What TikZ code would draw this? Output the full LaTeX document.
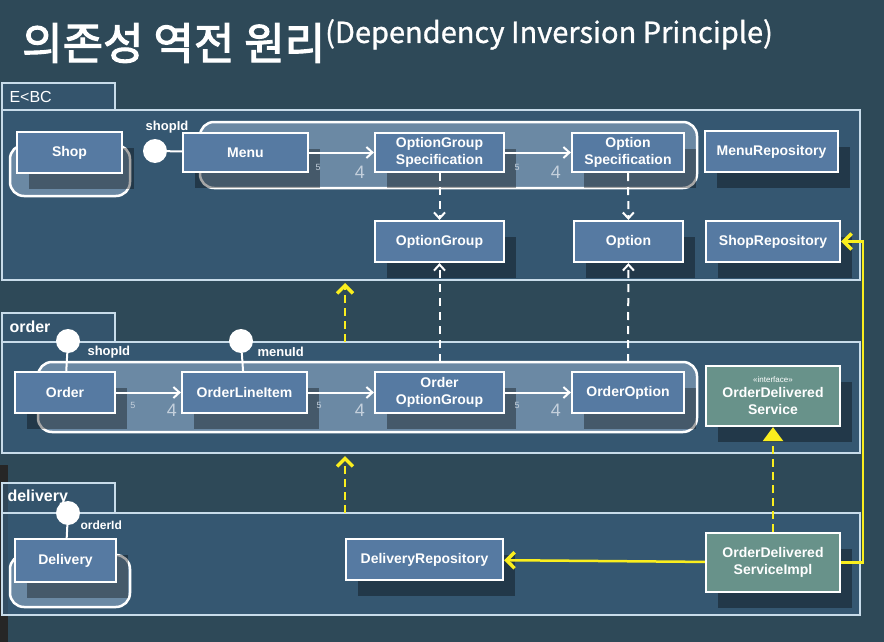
\documentclass[tikz,border=0pt]{standalone}
\usepackage{fontspec}
\setmainfont{Liberation Sans}
\newfontfamily\krfont{Noto Sans CJK KR}[FakeBold=2.5]
\newfontfamily\krsub{Noto Sans CJK KR}[FakeBold=1]
\usepackage{tikz}
\usetikzlibrary{positioning, arrows.meta, shadows}
\definecolor{bgdark}{RGB}{46,73,88}
\definecolor{framefill}{RGB}{56,92,122}
\definecolor{frameline}{RGB}{200,220,234}
\definecolor{boxfill}{RGB}{86,122,162}
\definecolor{aggfill}{RGB}{126,154,182}
\definecolor{svcfill}{RGB}{104,146,138}
\definecolor{hilite}{RGB}{250,238,30}
\definecolor{multgray}{RGB}{196,208,220}

\begin{document}
\begin{tikzpicture}[x=1pt, y=-1pt,
    every node/.style={font=\fontsize{14}{17}\selectfont\bfseries, text=white},
    pkgframe/.style={draw=frameline, line width=1.8pt, fill=framefill, fill opacity=0.75},
    pkgtab/.style={draw=frameline, line width=1.8pt, fill=framefill, fill opacity=0.6},
    agg/.style={draw=white, line width=2.5pt, fill=aggfill, fill opacity=0.75, rounded corners=14pt},
    cls/.style={draw=white, line width=2.2pt, fill=boxfill, align=center, inner sep=2pt,
        drop shadow={shadow xshift=12pt, shadow yshift=-16pt, opacity=0.35, fill=black}},
    svc/.style={cls, fill=svcfill},
    port/.style={circle, fill=white, minimum size=24pt, inner sep=0pt},
    portlbl/.style={font=\fontsize{13}{14}\selectfont\bfseries},
    small/.style={font=\fontsize{9}{10}\selectfont, text=multgray},
    big/.style={font=\fontsize{18}{19}\selectfont, text=multgray},
    assoc/.style={white, line width=2pt, -{Straight Barb[length=6pt, width=11pt]}},
    dep/.style={white, line width=2pt, dashed, dash pattern=on 8pt off 6pt,
        -{Straight Barb[length=6pt, width=11pt]}},
    ydep/.style={hilite, line width=2.5pt, dash pattern=on 8pt off 5pt,
        -{Straight Barb[length=8pt, width=16pt, line width=3.5pt]}},
    ylink/.style={hilite, line width=2.5pt, -{Straight Barb[length=8pt, width=16pt, line width=3.5pt]}}]

  \useasboundingbox (0,0) rectangle (884,642);
  \fill[bgdark] (0,0) rectangle (884,642);
  \fill[black!85] (0,465) rectangle (8,642);

  % title
  \node[anchor=west, inner sep=0pt, font=\krfont\fontsize{44}{46}\selectfont] (title) at (22,43) {의존성 역전 원리};
  \node[anchor=north west, inner sep=0pt, font=\krsub\fontsize{29}{31}\selectfont] (subtitle) at (325,19) {(Dependency Inversion Principle)};

  % packages
  \draw[pkgtab] (2,83) rectangle (115,110);
  \node[anchor=west, font=\fontsize{16}{17}\selectfont] (ebcname) at (6,97) {E<BC};
  \draw[pkgframe] (2,110) rectangle (860,280);

  \draw[pkgtab] (2,313) rectangle (115,342);
  \node[anchor=west, font=\fontsize{16}{17}\selectfont\bfseries] (ordername) at (6,327) {order};
  \draw[pkgframe] (2,342) rectangle (860,453);

  \draw[pkgtab] (2,483) rectangle (115,513);
  \node[anchor=west, font=\fontsize{16}{17}\selectfont\bfseries] (deliveryname) at (4,497) {delivery};
  \draw[pkgframe] (2,513) rectangle (860,615);

  % aggregates
  \draw[agg] (10,145) rectangle (130,196);
  \draw[agg] (200,122) rectangle (697,188);
  \draw[agg] (38,362) rectangle (697,432);
  \draw[agg] (10,555) rectangle (130,607);

  % E<BC classes
  \node[cls, minimum width=105pt, minimum height=41pt] (shop) at (69.5,152.5) {Shop};
  \node[cls, minimum width=125pt, minimum height=39pt] (menu) at (245.5,152.5) {Menu};
  \node[cls, minimum width=129pt, minimum height=39pt] (ogspec) at (439.5,152.5) {OptionGroup\\Specification};
  \node[cls, minimum width=112pt, minimum height=39pt] (ospec) at (628,152.5) {Option\\Specification};
  \node[cls, minimum width=133pt, minimum height=41pt] (menurepo) at (771.5,151.5) {MenuRepository};
  \node[cls, minimum width=129pt, minimum height=41pt] (og) at (439.5,241.5) {OptionGroup};
  \node[cls, minimum width=109pt, minimum height=41pt] (opt) at (628.5,241.5) {Option};
  \node[cls, minimum width=134pt, minimum height=41pt] (shoprepo) at (773,241.5) {ShopRepository};

  % order classes
  \node[cls, minimum width=100pt, minimum height=41pt] (order) at (65,392.5) {Order};
  \node[cls, minimum width=125pt, minimum height=41pt] (oli) at (244.5,392.5) {OrderLineItem};
  \node[cls, minimum width=129pt, minimum height=41pt] (oog) at (439.5,392.5) {Order\\OptionGroup};
  \node[cls, minimum width=112pt, minimum height=41pt] (oopt) at (628,392.5) {OrderOption};
  \node[svc, minimum width=134pt, minimum height=60pt] (ods) at (773,396)
    {{\fontsize{8}{9}\selectfont\mdseries «interface»}\\[-2pt]OrderDelivered\\Service};

  % delivery classes
  \node[cls, minimum width=101pt, minimum height=43pt] (delivery) at (65.5,560.5) {Delivery};
  \node[cls, minimum width=157pt, minimum height=41pt] (delrepo) at (424.5,559.5) {DeliveryRepository};
  \node[svc, minimum width=134pt, minimum height=59pt] (odsimpl) at (773,562.5) {OrderDelivered\\ServiceImpl};

  % id ports
  \node[port] (shopport) at (155,151) {};
  \node[portlbl] (shopportlbl) at (167,127) {shopId};
  \draw[white, line width=2pt] (shopport) -- (menu);
  \node[port] (ordshopport) at (68,341) {};
  \node[portlbl, anchor=west] (ordshoplbl) at (84,352) {shopId};
  \draw[white, line width=2pt] (ordshopport) -- (order);
  \node[port] (menuport) at (241,341) {};
  \node[portlbl, anchor=west] (menuportlbl) at (254,352) {menuId};
  \draw[white, line width=2pt] (menuport) -- (oli);
  \node[port] (orderport) at (68,513) {};
  \node[portlbl, anchor=west, font=\fontsize{12}{13}\selectfont\bfseries] (orderportlbl) at (77,525) {orderId};
  \draw[white, line width=2pt] (orderport) -- (delivery);

  % associations inside aggregates
  \draw[assoc] (menu) -- (ogspec);
  \draw[assoc] (ogspec) -- (ospec);
  \draw[assoc] (order) -- (oli);
  \draw[assoc] (oli) -- (oog);
  \draw[assoc] (oog) -- (oopt);
  \foreach \xa/\xb/\yy in {318/360/167, 517/556/167, 133/172/405, 319/360/405, 517/556/405} {
    \node[small] at (\xa,\yy) {5};
    \node[big] at (\xb,\yy+5) {4};
  }

  % dependencies
  \draw[dep] (ogspec) -- (og);
  \draw[dep] (ospec) -- (opt);
  \coordinate (oogtop) at (439.5,362);
  \coordinate (oopttop) at (628,362);
  \draw[dep] (oogtop) -- (og);
  \draw[dep] (oopttop) -- (opt);

  % package dependencies
  \coordinate (ordertop) at (345,342);
  \coordinate (ebcbottom) at (345,283);
  \coordinate (deliverytop) at (345,513);
  \coordinate (orderbottom) at (345,456);
  \draw[ydep] (ordertop) -- (ebcbottom);
  \draw[ydep] (deliverytop) -- (orderbottom);

  % inversion
  \draw[hilite, line width=2.5pt, dash pattern=on 8pt off 5pt,
        -{Triangle[length=14pt, width=20pt, fill=hilite]}] (odsimpl) -- (ods);
  \draw[ylink] (odsimpl) -- (delrepo);
  \coordinate (bend) at (863,562.5);
  \draw[ylink] (odsimpl.east) -- (bend) |- (shoprepo.east);
\end{tikzpicture}
\end{document}
